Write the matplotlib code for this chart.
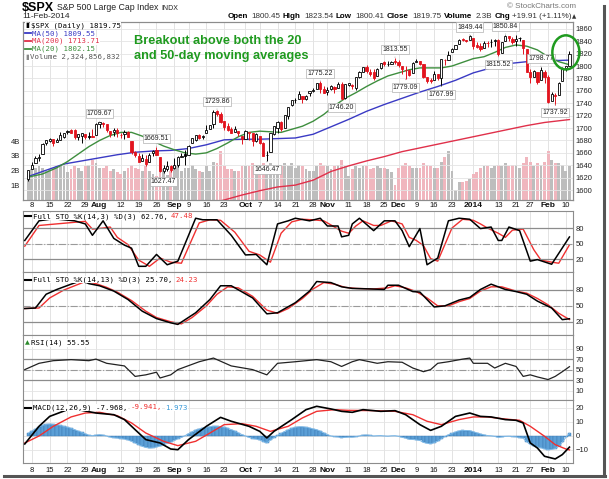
import numpy as np
import matplotlib.pyplot as plt
from matplotlib.lines import Line2D
from matplotlib.patches import Ellipse

plt.rcParams['font.family'] = ['Liberation Sans', 'DejaVu Sans']

# daily S&P 500 candles, 5-Jul-2013 .. 11-Feb-2014 (index 0 .. 152)
opens = [1618.65, 1634.20, 1642.89, 1651.56, 1657.41, 1675.26, 1679.59, 1683.00, 1677.91, 1681.05, 1686.15, 1694.41, 1696.06, 1696.06, 1685.21, 1687.31, 1690.32, 1687.92, 1687.76,
         1689.42, 1706.10, 1708.01, 1705.79, 1695.30, 1693.35, 1696.10, 1688.37, 1690.65, 1693.88, 1679.61, 1661.22, 1655.25, 1646.81, 1650.66, 1645.03, 1659.92, 1664.29, 1652.54, 1630.25, 1633.50, 1638.89,
         1635.95, 1640.72, 1653.28, 1657.44, 1656.85, 1675.11, 1681.04, 1689.21, 1685.04, 1691.70, 1697.73, 1705.74, 1727.34, 1722.44, 1711.44, 1702.60, 1698.02, 1694.05, 1695.52, 1687.26,
         1682.41, 1691.90, 1692.35, 1678.79, 1687.15, 1676.22, 1656.99, 1660.88, 1691.09, 1699.86, 1709.17, 1700.49, 1720.17, 1736.72, 1745.20, 1746.48, 1752.27, 1747.48, 1756.01, 1759.42, 1762.93, 1772.27, 1763.24,
         1758.70, 1763.40, 1765.67, 1765.00, 1770.74, 1748.37, 1769.96, 1769.51, 1764.37, 1782.75, 1790.66, 1798.82, 1790.79, 1789.59, 1783.52, 1797.21, 1806.33, 1802.87, 1803.48, 1808.01,
         1806.55, 1800.10, 1794.15, 1792.82, 1788.36, 1806.21, 1807.60, 1802.76, 1781.71, 1777.98, 1777.48, 1786.54, 1781.46, 1809.00, 1810.39, 1822.92, 1828.02, 1834.96, 1842.97, 1841.47, 1842.61,
         1845.86, 1833.21, 1832.31, 1828.71, 1837.90, 1839.00, 1840.06, 1841.26, 1821.36, 1840.52, 1847.99, 1844.23, 1841.05, 1844.71, 1842.29, 1826.96, 1791.03, 1783.00, 1790.15, 1777.17, 1790.88,
         1782.68, 1743.82, 1753.38, 1752.99, 1776.01, 1796.20, 1800.45]
highs = [1632.07, 1644.68, 1654.18, 1657.92, 1676.63, 1680.19, 1684.51, 1683.00, 1684.75, 1693.12, 1692.09, 1697.61, 1698.38, 1698.38, 1690.94, 1691.85, 1690.92, 1693.19, 1698.43,
         1707.85, 1709.67, 1709.24, 1705.79, 1695.30, 1700.18, 1699.42, 1691.49, 1696.81, 1695.52, 1679.61, 1663.60, 1659.18, 1658.92, 1656.99, 1659.55, 1664.85, 1669.51, 1652.54, 1641.18, 1646.41, 1640.08,
         1651.35, 1655.72, 1659.17, 1664.83, 1672.40, 1684.09, 1689.13, 1689.97, 1688.73, 1704.95, 1705.52, 1729.44, 1729.86, 1725.23, 1711.44, 1707.63, 1701.71, 1703.85, 1695.52, 1687.26,
         1696.55, 1693.87, 1692.35, 1691.94, 1687.15, 1676.79, 1662.47, 1692.56, 1703.44, 1711.03, 1711.57, 1721.76, 1733.45, 1745.31, 1747.79, 1759.33, 1752.27, 1753.94, 1759.82, 1764.99, 1772.09, 1775.22, 1768.53,
         1765.67, 1768.78, 1767.03, 1773.74, 1774.54, 1770.78, 1773.44, 1771.78, 1782.00, 1791.53, 1798.22, 1802.33, 1795.51, 1795.73, 1797.16, 1804.84, 1808.10, 1808.42, 1808.27, 1813.55,
         1810.02, 1800.10, 1799.80, 1792.82, 1806.04, 1811.52, 1808.52, 1802.97, 1782.99, 1780.92, 1792.22, 1786.77, 1811.08, 1810.88, 1823.75, 1829.75, 1833.32, 1842.84, 1844.89, 1842.47, 1849.44,
         1845.86, 1838.24, 1837.16, 1840.10, 1840.02, 1843.23, 1843.15, 1843.45, 1839.26, 1850.84, 1847.99, 1846.04, 1849.31, 1846.87, 1842.29, 1826.96, 1795.98, 1793.87, 1790.15, 1798.77, 1793.88,
         1784.83, 1758.73, 1755.79, 1774.06, 1798.03, 1799.94, 1823.54]
lows = [1614.71, 1634.20, 1642.89, 1647.66, 1657.41, 1672.33, 1677.89, 1671.84, 1677.91, 1681.05, 1684.08, 1690.67, 1691.78, 1682.57, 1680.07, 1676.03, 1681.86, 1682.42, 1684.94,
        1689.42, 1700.68, 1701.63, 1693.29, 1684.91, 1687.36, 1686.02, 1683.35, 1682.62, 1684.83, 1658.59, 1652.61, 1645.84, 1646.08, 1639.43, 1645.03, 1654.81, 1656.02, 1629.05, 1627.47, 1630.88, 1628.50,
        1633.41, 1637.41, 1653.07, 1640.62, 1656.85, 1675.11, 1678.70, 1681.96, 1682.22, 1691.70, 1697.73, 1700.35, 1720.20, 1708.89, 1697.10, 1694.90, 1691.88, 1693.11, 1687.11, 1674.99,
        1682.07, 1680.34, 1670.36, 1677.33, 1674.70, 1655.03, 1646.47, 1660.88, 1688.52, 1692.13, 1695.93, 1700.49, 1714.12, 1735.74, 1740.67, 1746.48, 1740.50, 1745.50, 1752.45, 1757.67, 1762.93, 1757.24, 1755.72,
        1752.70, 1761.56, 1755.76, 1764.40, 1746.20, 1747.63, 1767.85, 1762.29, 1760.64, 1780.22, 1790.66, 1788.00, 1784.72, 1777.23, 1783.52, 1794.70, 1800.58, 1800.77, 1802.77, 1803.98,
        1798.60, 1787.85, 1779.09, 1783.38, 1788.36, 1806.21, 1801.75, 1780.09, 1772.28, 1772.45, 1777.48, 1777.05, 1767.99, 1801.35, 1810.25, 1822.92, 1828.02, 1834.96, 1839.81, 1838.77, 1842.41,
        1827.74, 1829.13, 1823.73, 1828.71, 1831.40, 1830.38, 1832.43, 1815.52, 1821.36, 1840.52, 1840.30, 1835.23, 1832.38, 1840.88, 1820.06, 1790.29, 1772.88, 1783.00, 1770.45, 1777.17, 1772.26,
        1739.66, 1743.82, 1737.92, 1752.99, 1776.01, 1791.83, 1800.41]
closes = [1631.89, 1640.46, 1652.32, 1652.62, 1675.02, 1680.19, 1682.50, 1676.26, 1680.91, 1689.37, 1692.09, 1695.53, 1692.39, 1685.94, 1690.25, 1691.65, 1685.33, 1685.96, 1685.73,
          1706.87, 1709.67, 1707.14, 1697.37, 1690.91, 1697.48, 1691.42, 1689.47, 1694.16, 1685.39, 1661.32, 1655.83, 1646.06, 1652.35, 1642.80, 1656.96, 1663.50, 1656.78, 1630.48, 1634.96, 1638.17, 1632.97,
          1639.77, 1653.08, 1655.08, 1655.17, 1671.71, 1683.99, 1689.13, 1683.42, 1687.99, 1697.60, 1704.76, 1725.52, 1722.34, 1709.91, 1701.84, 1697.42, 1692.77, 1698.67, 1691.75, 1681.55,
          1695.00, 1693.87, 1678.66, 1690.50, 1676.12, 1655.45, 1656.40, 1692.56, 1703.20, 1710.14, 1698.06, 1721.54, 1733.15, 1744.50, 1744.66, 1754.67, 1746.38, 1752.07, 1759.77, 1762.11, 1771.95, 1763.31, 1756.54,
          1761.64, 1767.93, 1762.97, 1770.49, 1747.15, 1770.61, 1771.89, 1767.69, 1782.00, 1790.62, 1798.18, 1791.53, 1787.87, 1781.37, 1795.85, 1804.76, 1802.48, 1802.75, 1807.23, 1805.81,
          1800.90, 1795.15, 1792.81, 1785.03, 1805.09, 1808.37, 1802.62, 1782.22, 1775.50, 1775.32, 1786.54, 1781.00, 1810.65, 1809.60, 1818.32, 1827.99, 1833.32, 1842.02, 1841.40, 1841.07, 1848.36,
          1831.98, 1831.37, 1826.77, 1837.88, 1837.49, 1838.13, 1842.37, 1819.20, 1838.88, 1848.38, 1845.89, 1838.70, 1843.80, 1844.86, 1828.46, 1790.29, 1781.56, 1792.50, 1774.20, 1794.19, 1782.59,
          1741.89, 1755.20, 1751.64, 1773.43, 1797.02, 1799.84, 1819.75]
volume_b = [1.5, 2.1, 2.2, 2.3, 2.2, 2.0, 2.1, 2.2, 2.3, 2.4, 2.5, 1.9, 2.1, 2.3, 2.2, 2.0, 2.3, 2.4, 2.7,
            2.5, 2.2, 2.2, 2.3, 2.0, 2.1, 1.9, 1.8, 2.0, 2.2, 2.4, 2.2, 2.1, 2.0, 2.3, 2.0, 1.8, 1.6, 2.3, 2.1, 1.7, 2.0,
            2.4, 2.3, 2.0, 2.2, 2.2, 2.4, 2.1, 2.0, 1.9, 2.3, 2.0, 2.6, 2.5, 3.3, 2.3, 2.1, 2.1, 2.0, 2.0, 2.3,
            2.3, 2.3, 2.5, 2.1, 2.0, 2.5, 2.4, 2.5, 2.0, 1.9, 2.3, 2.5, 2.3, 2.5, 2.2, 2.4, 2.3, 2.1, 2.0, 2.0, 2.3, 2.5, 2.4,
            2.3, 2.1, 2.3, 2.4, 2.7, 2.3, 1.6, 2.1, 2.3, 2.2, 2.3, 2.3, 2.1, 2.2, 2.3, 2.2, 2.2, 2.1, 1.9, 1.0,
            2.2, 2.4, 2.5, 2.3, 2.2, 2.2, 2.2, 2.5, 2.4, 2.3, 2.2, 2.2, 2.6, 2.9, 3.3, 2.0, 0.7, 1.2, 1.2, 1.3, 1.4,
            1.8, 1.9, 2.2, 2.3, 2.3, 2.2, 2.3, 2.4, 2.3, 2.5, 2.3, 2.4, 2.4, 2.2, 2.5, 2.9, 2.6, 2.3, 2.5, 2.4, 2.6,
            3.3, 2.7, 2.5, 2.5, 2.4, 2.0, 2.3]

# x-axis labels (trading-day index)
tick_idx = [1, 6, 11, 16, 19, 26, 31, 36, 41, 45, 50, 55, 61, 65, 70, 75, 80, 84, 90, 95, 100, 104, 109, 114, 119, 125, 132, 137, 141, 146, 151]
tick_lab = ['8', '15', '22', '29', 'Aug', '12', '19', '26', 'Sep', '9', '16', '23', 'Oct', '7', '14', '21', '28', 'Nov',
            '11', '18', '25', 'Dec', '9', '16', '23', '2014', '13', '21', '27', 'Feb', '10']

# moving averages
ma20_i = [0, 4, 8, 11, 14, 17, 20, 23, 26, 29, 32, 35, 38, 41, 44, 47, 50, 53, 56, 59, 62, 65, 68, 71, 74, 77, 80, 83, 86, 89, 92,
          95, 98, 101, 104, 107, 110, 113, 116, 119, 122, 125, 128, 131, 134, 137, 140, 143, 146, 149, 152]
ma20_v = [1621, 1626, 1636, 1646, 1658, 1670, 1680, 1688, 1693, 1693, 1687, 1679, 1671, 1665, 1660, 1658, 1660, 1667, 1676, 1686,
          1693, 1695, 1694, 1693, 1698, 1703, 1711, 1722, 1736, 1748, 1757, 1767, 1776, 1784, 1789, 1794, 1797, 1797, 1797, 1800,
          1806, 1812, 1815, 1822, 1830, 1834, 1832, 1826, 1815, 1807, 1802.15]
ma50_i = [0, 5, 10, 15, 20, 25, 30, 35, 40, 45, 50, 55, 60, 65, 70, 75, 80, 85, 90, 95, 100, 105, 110, 115, 120, 125, 130, 135, 140, 145, 149, 152]
ma50_v = [1622, 1632, 1642, 1647, 1652, 1657, 1661, 1663, 1664, 1667, 1673, 1681, 1682, 1682, 1683, 1684, 1690, 1702, 1714, 1727,
          1738, 1748, 1758, 1767, 1777, 1789, 1797, 1804, 1807, 1810, 1809, 1809.55]
ma200_i = [50, 55, 60, 65, 70, 75, 80, 85, 90, 95, 100, 105, 110, 115, 120, 125, 130, 135, 140, 145, 152]
ma200_v = [1577, 1584, 1592, 1599, 1605, 1608, 1616, 1630, 1639, 1647, 1654, 1662, 1668, 1674, 1680, 1686, 1692, 1698, 1704, 1709, 1713.71]

# Full STO (14,3)
stoK1_i = [-1, 3, 7, 10, 13, 16, 18, 21, 24, 27, 29, 31, 33, 36, 39, 42, 47, 49, 53, 57, 61, 64, 67, 70, 73, 75, 79, 82, 84, 87, 88,
           90, 91, 93, 97, 100, 103, 105, 107, 110, 112, 115, 118, 121, 124, 127, 130, 132, 133, 135, 138, 141, 143, 147, 152]
stoK1_v = [56, 94, 98, 96, 94, 88, 66, 94, 60, 47, 41, 6, 6, 29, 9, 16, 99, 96, 96, 66, 28, 29, 9, 88, 94, 99, 94, 99, 84, 84, 63,
           66, 88, 99, 75, 94, 94, 75, 44, 79, 9, 22, 94, 99, 97, 79, 82, 56, 56, 82, 75, 16, 19, 10, 62.76]
stoD1_i = [-1, 3, 16, 18, 21, 23, 25, 28, 31, 34, 37, 40, 43, 48, 51, 54, 58, 62, 65, 68, 71, 74, 77, 80, 83, 85, 88, 90, 92, 94, 97,
           99, 102, 105, 107, 109, 111, 113, 115, 119, 122, 125, 127, 129, 132, 134, 136, 139, 142, 144, 147, 149, 152]
stoD1_v = [45, 85, 93, 78, 80, 82, 62, 48, 18, 6, 22, 14, 12, 90, 96, 95, 72, 35, 28, 14, 70, 92, 97, 96, 94, 86, 74, 70, 84, 94, 85,
           85, 94, 88, 62, 56, 46, 21, 16, 80, 97, 95, 88, 80, 70, 62, 76, 78, 38, 18, 14, 12, 47.48]

# Full STO (14,13)
stoK2_i = [-1, 2, 5, 8, 12, 15, 17, 20, 24, 28, 32, 36, 40, 42, 47, 51, 54, 57, 63, 67, 70, 75, 79, 81, 85, 88, 91, 96, 100, 101,
           104, 108, 110, 114, 117, 121, 124, 127, 130, 134, 137, 140, 143, 147, 150, 152]
stoK2_v = [45, 46, 72, 81, 91, 98, 92, 88, 78, 62, 40, 26, 18, 15, 37, 62, 88, 88, 65, 35, 37, 56, 78, 96, 94, 86, 83, 82, 81, 89,
           89, 77, 76, 48, 50, 61, 66, 81, 91, 81, 77, 72, 59, 46, 24, 25.70]
stoD2_i = [-1, 3, 6, 10, 13, 16, 19, 22, 25, 29, 33, 36, 40, 43, 46, 50, 53, 56, 59, 63, 67, 70, 73, 77, 80, 83, 86, 89, 92, 97, 101,
           103, 106, 109, 112, 115, 118, 121, 124, 127, 130, 133, 137, 140, 143, 146, 149, 152]
stoD2_v = [45, 46, 65, 80, 88, 96, 92, 85, 76, 60, 40, 28, 20, 16, 28, 50, 72, 86, 84, 68, 42, 36, 45, 64, 82, 94, 91, 85, 83, 82, 84,
           88, 84, 77, 65, 50, 50, 58, 64, 78, 86, 86, 78, 74, 64, 52, 36, 24.23]

# RSI(14)
rsi_i = [-1, 3, 7, 12, 17, 19, 22, 27, 30, 33, 36, 37, 40, 42, 48, 52, 57, 63, 67, 70, 75, 81, 85, 88, 91, 93, 98, 101, 105, 108,
         111, 113, 115, 118, 122, 124, 125, 129, 131, 134, 137, 139, 141, 143, 146, 148, 150, 152]
rsi_v = [50, 62, 67, 69, 67, 70, 62, 57, 37, 40, 45, 34, 40, 50, 65, 72, 57, 50, 40, 62, 65, 69, 65, 56, 65, 69, 62, 65, 64, 53,
         46, 50, 62, 65, 70, 72, 62, 62, 53, 62, 56, 37, 40, 36, 31, 37, 46, 55.55]

# MACD(12,26,9)
macd_i = [-1, 3, 6, 11, 14, 19, 24, 27, 30, 33, 37, 40, 42, 45, 50, 54, 57, 62, 65, 67, 69, 74, 78, 81, 85, 88, 91, 94, 99, 103,
          106, 110, 113, 116, 120, 124, 127, 130, 134, 137, 139, 141, 143, 145, 148, 150, 152]
macd_v = [-5.7, 6.9, 14, 18.8, 18.8, 16.4, 15.2, 11.7, 4.5, -2.6, -5, -9.3, -9.8, -2.6, 6.9, 13.3, 10.5, 6.9, 3.3, -1.4, 3.3, 11.7,
          18.8, 21.2, 19.3, 17.6, 16.9, 18.8, 17.6, 18.1, 15.2, 8.1, 4, 6.9, 14, 16.4, 14, 13.6, 11.7, 11.2, 9.3, -5, -8.6, -14.5,
          -16.4, -13.3, -7.968]
sig_i = [-1, 3, 7, 12, 16, 20, 25, 29, 33, 38, 42, 47, 51, 55, 60, 64, 68, 73, 77, 81, 86, 90, 97, 103, 108, 112, 116, 121, 125,
         129, 134, 138, 141, 145, 148, 151, 152]
sig_v = [-5, 0, 6.9, 13.6, 16.4, 16.9, 14.5, 9.3, 2.1, -3.8, -6.9, -3.8, 2.1, 8.1, 8.8, 6.9, 3.3, 6.9, 12.9, 17.6, 18.8, 18.3, 18.1,
         17.6, 15.2, 10.5, 8.1, 11.7, 13.6, 13.6, 12.1, 11.2, 6.9, -0.2, -6.2, -9.3, -9.941]
hist = [2.0, 3.5, 5.0, 6.5, 7.5, 8.3, 8.5, 8.3, 8.0, 7.5, 6.8, 6.2, 5.5, 4.5, 3.5, 2.5, 1.5, 0.5, 0.2, 0.6, 0.9, 0.6, 0.0, -0.8, -1.2,
        -1.5, -1.8, -2.2, -2.8, -3.8, -5.0, -6.2, -7.4, -8.2, -8.6, -8.4, -7.8, -7.2, -6.2, -5.3, -4.5, -3.2, -2.0, -1.0, 0.2, 1.6,
        3.0, 4.2, 5.0, 5.7, 6.2, 6.6, 6.9, 6.9, 6.6, 6.2, 5.5, 4.5, 3.5, 2.2, 1.0, 0.0, -1.0, -1.8, -2.2, -2.8, -4.0, -5.0, -3.0,
        -1.2, 0.4, 1.8, 3.2, 4.4, 5.5, 6.2, 6.6, 6.6, 6.2, 5.7, 5.0, 4.5, 3.5, 2.2, 1.0, 0.0, -0.4, -0.7, -1.2, -1.0, -0.8, -0.9,
        -0.5, 0.0, 0.6, 0.7, 0.4, 0.0, 0.2, 0.3, 0.0, -0.2, 0.1, 0.2, -0.3, -1.0, -1.5, -2.4, -2.5, -2.8, -3.2, -4.6, -5.2, -5.5,
        -4.8, -3.8, -2.0, -0.4, 0.8, 1.8, 2.8, 3.6, 4.0, 3.9, 3.8, 3.0, 2.2, 1.4, 0.8, 0.3, 0.1, -0.3, -1.0, -0.7, -0.3, -0.2,
        -0.4, -0.6, -1.2, -1.6, -4.2, -6.0, -7.2, -7.8, -8.4, -9.2, -9.8, -9.6, -9.0, -7.5, -4.5, -1.0, 1.973]

# price labels on swing highs / lows
ann_i = [20, 36, 38, 53, 67, 82, 88, 103, 106, 116, 124, 134, 132, 144, 148]
ann_v = [1709.67, 1669.51, 1627.47, 1729.86, 1646.47, 1775.22, 1746.20, 1813.55, 1779.09, 1767.99, 1849.44, 1850.84, 1815.52, 1798.77, 1737.92]
ann_hi = [1, 1, 0, 1, 0, 1, 0, 1, 0, 0, 1, 1, 0, 1, 0]

W, H = 609, 479
fig = plt.figure(figsize=(W / 100, H / 100), dpi=100)


def box(x0, y0, x1, y1):
    return fig.add_axes([x0 / W, 1 - y1 / H, (x1 - x0) / W, (y1 - y0) / H])


axv = box(23, 22, 573, 200)
ax = box(23, 22, 573, 200)
ax.set_facecolor('none')
ax1 = box(23, 211, 573, 272)
ax2 = box(23, 272, 573, 335)
ax3 = box(23, 335, 573, 400)
ax4 = box(23, 400, 573, 463)

for a in [axv, ax, ax1, ax2, ax3, ax4]:
    a.set_xlim(-1.5, 153)
    a.set_xticks(tick_idx)
    a.set_xticklabels([])
    a.tick_params(length=0, labelsize=5.5, colors='#222', pad=2)
    for s in a.spines.values():
        s.set_color('#8c8c8c')
        s.set_linewidth(0.8)
for a in [axv, ax1, ax2, ax3, ax4]:
    a.grid(axis='x', color='#dedede', lw=0.6)
    a.set_axisbelow(True)
for a in [ax, ax1, ax2, ax3, ax4]:
    a.yaxis.tick_right()
    a.grid(axis='y', color='#e4e4e4', lw=0.6)

x = np.arange(len(closes))
o, h, l, c = map(np.array, (opens, highs, lows, closes))
prev = np.r_[o[0], c[:-1]]
col = np.where(c >= prev, 'black', '#e2141e')

# volume
axv.bar(x, volume_b, width=0.8, color=np.where(c >= prev, '#bdbdbd', '#f0b6be'), edgecolor='none')
axv.set_ylim(0, 12.1)
axv.set_yticks([1, 2, 3, 4])
axv.set_yticklabels(['1B', '2B', '3B', '4B'])
axv.tick_params(axis='y', labelsize=5.5, pad=2)

# candles
ax.vlines(x, l, h, colors=col, lw=0.7, zorder=3)
body_lo = np.minimum(o, c)
body_h = np.maximum(np.abs(c - o), 0.4)
face = np.where(c < o, col, 'white')
ax.bar(x, body_h, bottom=body_lo, width=0.62, color=face, edgecolor=col, linewidth=0.6, zorder=4)
ax.plot(ma50_i, ma50_v, color='#3a3ac4', lw=1.0, zorder=2)
ax.plot(ma200_i, ma200_v, color='#e0304a', lw=1.0, zorder=2)
ax.plot(ma20_i, ma20_v, color='#3e8e3e', lw=1.0, zorder=2)
ax.set_ylim(1584, 1871)
ax.set_yticks(range(1600, 1861, 20))

for i, v, hi in zip(ann_i, ann_v, ann_hi):
    ax.annotate(f'{v:.2f}', xy=(i, h[i] if hi else l[i]), xytext=(0, 3.5 if hi else -3.5), textcoords='offset points',
                ha='center', va='bottom' if hi else 'top', fontsize=5, color='#222', zorder=6,
                bbox=dict(boxstyle='square,pad=0.15', fc='white', ec='#b0b0b0', lw=0.5),
                arrowprops=dict(arrowstyle='-', color='#b0b0b0', lw=0.5))

ax.add_patch(Ellipse((151, 1822), 7.6, 55, fill=False, ec='#1f9a1f', lw=1.8, clip_on=False, zorder=7))
ax.text(0.202, 0.925, 'Breakout above both the 20\nand 50-day moving averages', transform=ax.transAxes,
        fontsize=9.2, fontweight='bold', color='#1f9a1f', va='top', linespacing=1.35, zorder=7)

# stochastics
for a, ki, kv, di, dv in [(ax1, stoK1_i, stoK1_v, stoD1_i, stoD1_v), (ax2, stoK2_i, stoK2_v, stoD2_i, stoD2_v)]:
    a.plot(ki, kv, color='black', lw=1.1, zorder=3)
    a.plot(di, dv, color='#f03030', lw=1.0, zorder=2)
    a.axhline(20, color='#8c8c8c', lw=0.9)
    a.axhline(80, color='#8c8c8c', lw=0.9)
    a.axhline(50, color='#9a9a9a', lw=0.8, ls='-.')
    a.set_yticks([20, 50, 80])
ax1.set_ylim(-5, 113)
ax2.set_ylim(-5, 114)

# RSI
ax3.plot(rsi_i, rsi_v, color='#222', lw=0.9, zorder=3)
ax3.axhline(30, color='#8c8c8c', lw=0.9)
ax3.axhline(70, color='#8c8c8c', lw=0.9)
ax3.axhline(50, color='#9a9a9a', lw=0.8, ls='-.')
ax3.set_ylim(-8, 116)
ax3.set_yticks([10, 30, 50, 70, 90])

# MACD
ax4.bar(x, hist, width=1.0, color='#5b9fd6', edgecolor='#3a78b0', linewidth=0.3, zorder=2)
ax4.plot(x, hist, color='#7ab8e8', lw=0.7, zorder=2)
ax4.plot(sig_i, sig_v, color='#f03030', lw=1.0, zorder=3)
ax4.plot(macd_i, macd_v, color='black', lw=1.2, zorder=4)
ax4.set_ylim(-19.3, 25.7)
ax4.set_yticks([-10, 0, 10, 20])

renderer = fig.canvas.get_renderer()

# x labels under price panel and MACD panel; a label that would touch the previous one is pushed right
for ypx in [205.5, 470]:
    last_right = -1e9
    for i, s in zip(tick_idx, tick_lab):
        bold = not s.isdigit() or s == '2014'
        xp = 23 + (i + 1.5) / 154.5 * 550
        t = fig.text(xp / W, 1 - ypx / H, s, ha='center', va='center', fontsize=6.0 if bold else 5.5,
                     fontweight='bold' if bold else 'normal', color='#111')
        bb = t.get_window_extent(renderer=renderer)
        if bb.x0 < last_right + 1.5:
            xp += last_right + 1.5 - bb.x0
            t.set_x(xp / W)
        last_right = xp + bb.width / 2


def put(xp, yp, parts, ha='left', bg=False):
    seq = parts if ha == 'left' else parts[::-1]
    for s, size, color, weight, fam, gap in seq:
        t = fig.text(xp / W, 1 - yp / H, s, fontsize=size, color=color, fontweight=weight, family=fam,
                     ha=ha, va='center', zorder=6)
        if bg:
            t.set_bbox(dict(fc='white', ec='none', pad=0.3))
        w = t.get_window_extent(renderer=renderer).width
        xp = xp + w + gap if ha == 'left' else xp - w - gap


sans = ['Liberation Sans', 'DejaVu Sans']
mono = ['DejaVu Sans Mono']

put(22, 8, [('$SPX', 9, 'black', 'bold', sans, 3), ('S&P 500 Large Cap Index', 6.3, '#222', 'normal', sans, 3),
            ('INDX', 5, '#222', 'normal', sans, 0)])
put(22, 17, [('11-Feb-2014', 6, '#222', 'normal', sans, 0)])
put(576, 7, [('\u00a9 StockCharts.com', 5.8, '#777', 'normal', sans, 0)], ha='right')
put(576, 17, [('Open', 5.8, 'black', 'bold', sans, 2), ('1800.45', 5.8, '#333', 'normal', sans, 4),
              ('High', 5.8, 'black', 'bold', sans, 2), ('1823.54', 5.8, '#333', 'normal', sans, 4),
              ('Low', 5.8, 'black', 'bold', sans, 2), ('1800.41', 5.8, '#333', 'normal', sans, 4),
              ('Close', 5.8, 'black', 'bold', sans, 2), ('1819.75', 5.8, '#333', 'normal', sans, 4),
              ('Volume', 5.8, 'black', 'bold', sans, 2), ('2.3B', 5.8, '#333', 'normal', sans, 4),
              ('Chg', 5.8, 'black', 'bold', sans, 2), ('+19.91 (+1.11%)', 5.8, '#333', 'normal', sans, 2),
              ('\u25b2', 4, '#333', 'normal', ['DejaVu Sans'], 0)], ha='right')

# price panel legend
put(25, 25.5, [('\u25ae', 5, 'black', 'normal', ['DejaVu Sans'], 2), ('$SPX (Daily) 1819.75', 5.3, 'black', 'normal', mono, 0)], bg=True)
leg = [('MA(50) 1809.55', '#3a3ac4'), ('MA(200) 1713.71', '#e0304a'), ('MA(20) 1802.15', '#3e8e3e')]
for k, (s, cc) in enumerate(leg):
    yk = 33.3 + k * 7.8
    fig.add_artist(Line2D([25 / W, 31 / W], [1 - yk / H] * 2, color=cc, lw=1.3))
    put(32, yk, [(s, 5.3, cc, 'normal', mono, 0)], bg=True)
put(25, 56.7, [('\u25ae', 5, '#888', 'normal', ['DejaVu Sans'], 1), ('Volume 2,324,856,832', 5.3, '#555', 'normal', mono, 0)], bg=True)

# indicator legends
for yk, parts in [(216.5, [('Full STO %K(14,3) %D(3) 62.76,', 5.3, 'black', 'normal', mono, 3), ('47.48', 5.3, '#f03030', 'normal', mono, 0)]),
                  (279.5, [('Full STO %K(14,13) %D(3) 25.70,', 5.3, 'black', 'normal', mono, 3), ('24.23', 5.3, '#f03030', 'normal', mono, 0)]),
                  (407.5, [('MACD(12,26,9) -7.968,', 5.3, 'black', 'normal', mono, 3), ('-9.941,', 5.3, '#f03030', 'normal', mono, 3),
                           ('1.973', 5.3, '#3a9ad8', 'normal', mono, 0)])]:
    fig.add_artist(Line2D([25 / W, 31 / W], [1 - yk / H] * 2, color='black', lw=1.5))
    put(33, yk, parts, bg=True)
put(25, 343, [('\u25b2', 4.5, '#2a8a2a', 'normal', ['DejaVu Sans'], 1), ('RSI(14) 55.55', 5.3, 'black', 'normal', mono, 0)], bg=True)

# screenshot drop shadow
fig.add_artist(Line2D([604 / W, 604 / W], [1 - 6 / H, 1 - 476 / H], color='#555', lw=2.2))
fig.add_artist(Line2D([4 / W, 605 / W], [1 - 475.5 / H, 1 - 475.5 / H], color='#555', lw=2.2))

fig.savefig('out.png', dpi=100)
